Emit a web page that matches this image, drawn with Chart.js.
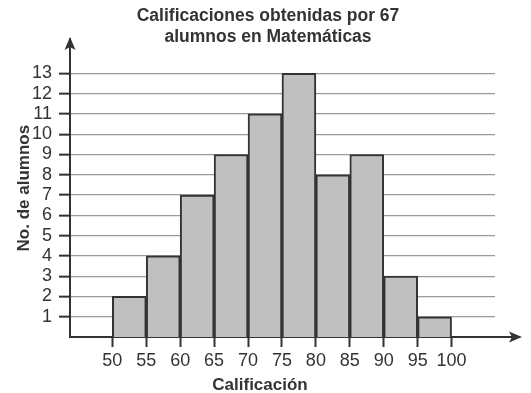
<!DOCTYPE html>
<html>
<head>
<meta charset="utf-8">
<script src="https://cdn.jsdelivr.net/npm/chart.js@4/dist/chart.umd.min.js"></script>
<style>
  html, body { margin: 0; padding: 0; background: #fff; }
  #wrap { width: 531px; height: 393px; }
</style>
</head>
<body>
<div id="wrap"><canvas id="myChart"></canvas></div>
<script>
"use strict";
// datos
const binStarts = [50, 55, 60, 65, 70, 75, 80, 85, 90, 95];
const binWidth = 5;
const counts = [2, 4, 7, 9, 11, 13, 8, 9, 3, 1];
const xTicks = [50, 55, 60, 65, 70, 75, 80, 85, 90, 95, 100];
const yTicks = [1, 2, 3, 4, 5, 6, 7, 8, 9, 10, 11, 12, 13];
const titleLines = ["Calificaciones obtenidas por 67", "alumnos en Matemáticas"];
const xTitle = "Calificación";
const yTitle = "No. de alumnos";

const ink = "#333333";
const fontFam = "'Liberation Sans', Arial, sans-serif";
const points = binStarts.map((b, i) => ({ x: b + binWidth / 2, y: counts[i] }));

// flechas de los ejes y titulo del eje x
const axesExtras = {
  id: "axesExtras",
  afterDraw(chart) {
    const ctx = chart.ctx;
    const area = chart.chartArea;
    const xs = chart.scales.x;
    ctx.save();
    ctx.strokeStyle = ink;
    ctx.fillStyle = ink;
    ctx.lineWidth = 2;
    // eje x extendido
    ctx.beginPath();
    ctx.moveTo(area.right - 1, area.bottom);
    ctx.lineTo(513, area.bottom);
    ctx.stroke();
    // punta x
    ctx.beginPath();
    ctx.moveTo(522, area.bottom);
    ctx.lineTo(509, area.bottom - 5.5);
    ctx.lineTo(512, area.bottom);
    ctx.lineTo(509, area.bottom + 5.5);
    ctx.closePath();
    ctx.fill();
    // punta y
    ctx.beginPath();
    ctx.moveTo(area.left, 37);
    ctx.lineTo(area.left - 5.5, 50);
    ctx.lineTo(area.left, 47);
    ctx.lineTo(area.left + 5.5, 50);
    ctx.closePath();
    ctx.fill();
    // titulo del eje x
    ctx.font = "bold 17px " + fontFam;
    ctx.textAlign = "center";
    ctx.textBaseline = "middle";
    const cx = (xs.getPixelForValue(70) + xs.getPixelForValue(75)) / 2 - 5;
    ctx.fillText(xTitle, cx, 385);
    ctx.restore();
  }
};

const ctx = document.getElementById("myChart");
const myChart = new Chart(ctx, {
  type: "bar",
  data: {
    datasets: [{
      label: "alumnos",
      data: points,
      backgroundColor: "#c0c0c1",
      borderColor: ink,
      borderWidth: 2,
      barPercentage: 1,
      categoryPercentage: 1
    }]
  },
  options: {
    responsive: true,
    maintainAspectRatio: false,
    animation: false,
    layout: { padding: { left: 5, right: 0, top: 0, bottom: 0 } },
    plugins: {
      legend: { display: false },
      tooltip: { enabled: false },
      title: {
        display: true,
        text: titleLines,
        color: ink,
        font: { family: fontFam, size: 17.5, weight: "bold", lineHeight: 1.18 },
        padding: { top: 6, bottom: -8 }
      }
    },
    scales: {
      x: {
        type: "linear",
        offset: false,
        min: 43.76,
        max: 106.4,
        afterFit: s => { s.height = 56; },
        afterBuildTicks: s => { s.ticks = xTicks.map(v => ({ value: v })); },
        border: { color: ink, width: 2 },
        grid: { offset: false, drawOnChartArea: false, tickColor: ink, tickLength: 10, tickWidth: 2 },
        ticks: {
          color: ink,
          padding: 3,
          maxRotation: 0,
          autoSkip: false,
          font: { family: fontFam, size: 18 }
        }
      },
      y: {
        min: 0,
        max: 14.68,
        afterFit: s => { s.width = 65; },
        afterBuildTicks: s => { s.ticks = yTicks.map(v => ({ value: v })); },
        border: { color: ink, width: 2 },
        grid: { color: "#9a9a9a", lineWidth: 1.3, tickColor: ink, tickLength: 11, tickWidth: 2 },
        ticks: {
          color: ink,
          padding: 7,
          autoSkip: false,
          font: { family: fontFam, size: 18 }
        },
        title: {
          display: true,
          text: yTitle,
          color: ink,
          font: { family: fontFam, size: 17, weight: "bold", lineHeight: 1.2 },
          padding: { top: 9, bottom: 0 }
        }
      },
      // eje vacio a la derecha, solo reserva el espacio de la flecha
      yRight: {
        position: "right",
        display: true,
        afterFit: s => { s.width = 36; },
        grid: { display: false, drawOnChartArea: false },
        border: { display: false },
        ticks: { display: false }
      }
    }
  },
  plugins: [axesExtras]
});
</script>
</body>
</html>
